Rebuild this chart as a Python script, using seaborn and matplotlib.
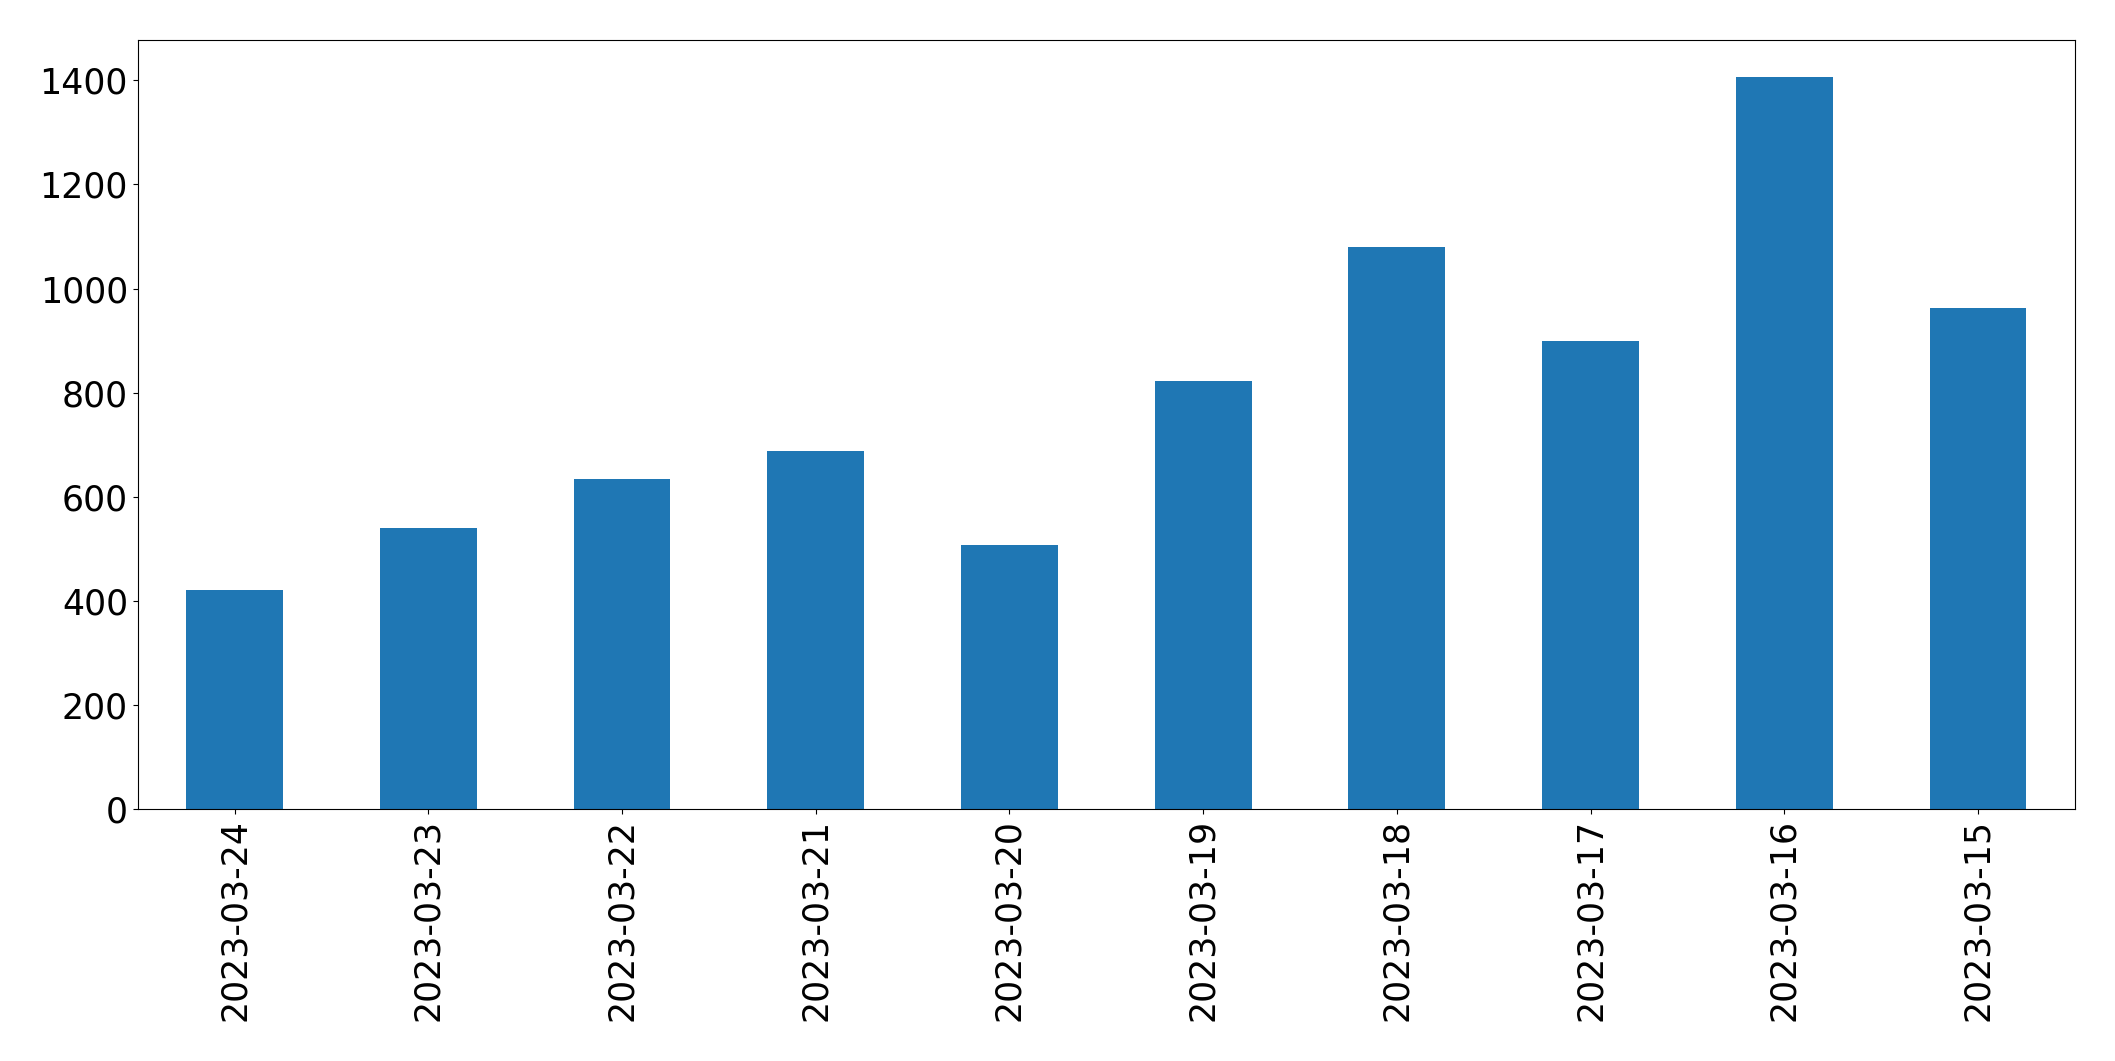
import matplotlib
matplotlib.use("Agg")
import matplotlib.pyplot as plt
import seaborn as sns

# daily counts, newest first (as in the source chart)
dates = ["2023-03-24", "2023-03-23", "2023-03-22", "2023-03-21", "2023-03-20",
         "2023-03-19", "2023-03-18", "2023-03-17", "2023-03-16", "2023-03-15"]
counts = [420, 539, 635, 688, 507, 823, 1079, 900, 1407, 962]

fig = plt.figure(figsize=(21.15, 10.61), dpi=100)
ax = fig.add_axes([0.0651, 0.2375, 0.9159, 0.7247])

sns.barplot(x=dates, y=counts, color="#1f77b4", saturation=1, width=0.5, ax=ax)

ax.set_xlim(-0.5, len(dates) - 0.5)
ax.set_ylim(0, max(counts) * 1.05)
ax.set_xlabel("")
ax.set_ylabel("")
ax.tick_params(axis="both", labelsize=25)
ax.tick_params(axis="x", labelrotation=90)

fig.savefig("out.png", dpi=100)
